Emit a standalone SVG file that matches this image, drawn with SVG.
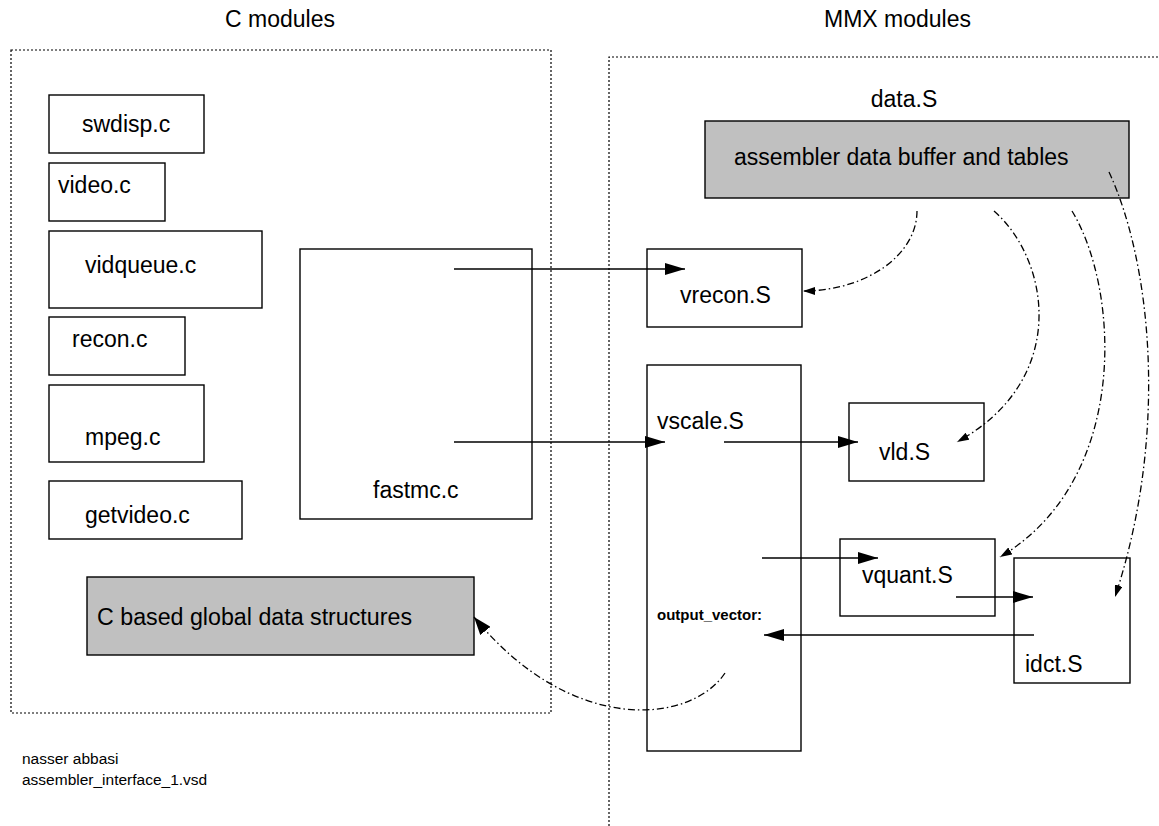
<svg xmlns="http://www.w3.org/2000/svg" width="1159" height="826" viewBox="0 0 1159 826">
<style>
  text { font-family: "Liberation Sans", Arial, sans-serif; fill: #000; }
  .lbl { font-size: 23px; }
  .title { font-size: 23px; }
  .small { font-size: 15.5px; }
  .bold { font-size: 15px; font-weight: bold; }
  .box { fill: #fff; stroke: #000; stroke-width: 1.4; }
  .gray { fill: #c0c0c0; stroke: #000; stroke-width: 1.4; }
  .region { fill: none; stroke: #000; stroke-width: 1.2; stroke-dasharray: 2 2; }
  .solid { fill: none; stroke: #000; stroke-width: 1.5; marker-end: url(#arrow); }
  .dd { fill: none; stroke: #000; stroke-width: 1.3; stroke-dasharray: 7 3 1.5 3; marker-end: url(#arrowSmall); }
</style>
<defs>
  <marker id="arrow" markerUnits="userSpaceOnUse" markerWidth="20" markerHeight="12" refX="20" refY="6" orient="auto">
    <path d="M0,0 L20,6 L0,12 z" fill="#000"/>
  </marker>
  <marker id="arrowSmall" markerUnits="userSpaceOnUse" markerWidth="12" markerHeight="8" refX="12" refY="4" orient="auto">
    <path d="M0,0 L12,4 L0,8 z" fill="#000"/>
  </marker>
  <marker id="arrowBig" markerUnits="userSpaceOnUse" markerWidth="18" markerHeight="13" refX="18" refY="6.5" orient="auto">
    <path d="M0,0 L18,6.5 L0,13 z" fill="#000"/>
  </marker>
</defs>
<rect width="1159" height="826" fill="#fff"/>

<g id="regions">
  <rect class="region" x="11" y="50" width="540" height="663"/>
  <path class="region" d="M609,826 V57 H1159"/>
  <text class="title" x="280" y="27" text-anchor="middle">C modules</text>
  <text class="title" x="824" y="27">MMX modules</text>
</g>

<g id="swdisp"><rect class="box" x="49" y="95" width="155" height="58"/><text class="lbl" x="82" y="132">swdisp.c</text></g>
<g id="video"><rect class="box" x="49" y="163" width="116" height="58"/><text class="lbl" x="58" y="193">video.c</text></g>
<g id="vidqueue"><rect class="box" x="49" y="231" width="213" height="77"/><text class="lbl" x="85" y="273">vidqueue.c</text></g>
<g id="recon"><rect class="box" x="49" y="317" width="136" height="58"/><text class="lbl" x="72" y="347">recon.c</text></g>
<g id="mpeg"><rect class="box" x="49" y="385" width="155" height="77"/><text class="lbl" x="85" y="445">mpeg.c</text></g>
<g id="getvideo"><rect class="box" x="49" y="481" width="193" height="58"/><text class="lbl" x="85" y="523">getvideo.c</text></g>
<g id="fastmc"><rect class="box" x="300" y="249" width="232" height="270"/><text class="lbl" x="373" y="498">fastmc.c</text></g>
<g id="cdata"><rect class="gray" x="87" y="577" width="387" height="78"/><text class="lbl" x="97" y="625" font-size="24" textLength="315" lengthAdjust="spacingAndGlyphs">C based global data structures</text></g>

<g id="dataS"><text class="lbl" x="904" y="107" text-anchor="middle">data.S</text><rect class="gray" x="705" y="121" width="424" height="77"/><text class="lbl" x="734" y="165">assembler data buffer and tables</text></g>
<g id="vrecon"><rect class="box" x="647" y="249" width="155" height="78"/><text class="lbl" x="680" y="303">vrecon.S</text></g>
<g id="vscale"><rect class="box" x="647" y="365" width="154" height="386"/><text class="lbl" x="657" y="429">vscale.S</text><text class="bold" x="657" y="620">output_vector:</text></g>
<g id="vld"><rect class="box" x="849" y="403" width="135" height="78"/><text class="lbl" x="879" y="460">vld.S</text></g>
<g id="vquant"><rect class="box" x="840" y="539" width="155" height="77"/><text class="lbl" x="862" y="583">vquant.S</text></g>
<g id="idct"><rect class="box" x="1014" y="558" width="116" height="125"/><text class="lbl" x="1025" y="672">idct.S</text></g>

<g id="connectors">
  <path class="solid" d="M454,269 H685"/>
  <path class="solid" d="M454,442 H665"/>
  <path class="solid" d="M724,442 H858"/>
  <path class="solid" d="M762,558 H878"/>
  <path class="solid" d="M956,597 H1033"/>
  <path class="solid" d="M1034,635 H764"/>
  <path class="dd" d="M917,211 A114,80 0 0 1 803,291"/>
  <path class="dd" d="M994,211 C1050,260 1070,380 957,442"/>
  <path class="dd" d="M1072,211 C1120,290 1130,480 1000,557"/>
  <path class="dd" d="M1109,172 C1150,260 1170,430 1115,597"/>
  <path class="dd" style="marker-end:url(#arrowBig)" d="M725,673 C690,725 570,735 474,617"/>
</g>

<g id="footer">
  <text class="small" x="22" y="764">nasser abbasi</text>
  <text class="small" x="22" y="785">assembler_interface_1.vsd</text>
</g>
</svg>
